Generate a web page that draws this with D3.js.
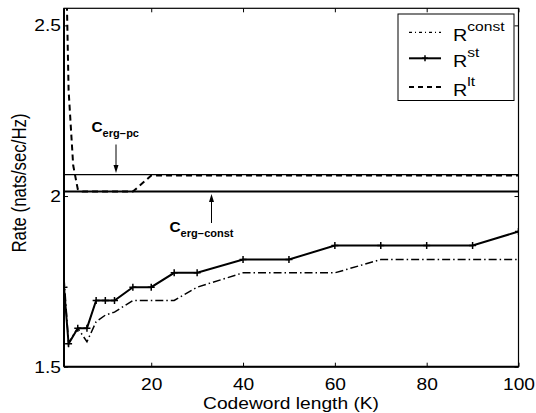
<!DOCTYPE html>
<html><head><meta charset="utf-8">
<script src="https://cdn.jsdelivr.net/npm/d3@7"></script>
<style>
html,body{margin:0;padding:0;background:#fff;}
svg{display:block;font-family:"Liberation Sans",Arial,Helvetica,sans-serif;}
</style></head>
<body><svg id="c" width="536" height="413"></svg>
<script>
// ---- data ----
const kValues = [1,2,4,6,8,10,12,16,20,25,30,40,50,60,70,80,90,100];
const rStValues = [1.733,1.567,1.613,1.613,1.694,1.694,1.694,1.733,1.733,1.775,1.775,1.814,1.814,1.855,1.855,1.855,1.855,1.896];
const rConstValues = [1.76,1.57,1.613,1.573,1.632,1.651,1.66,1.694,1.694,1.694,1.733,1.775,1.775,1.775,1.814,1.814,1.814,1.814];
const ltK = [1,2,3,4,5,8,10,12,16,20,25,30,40,50,60,70,80,90,100];
const rLtValues = [3.0,2.31,2.09,2.02,2.013,2.013,2.013,2.013,2.013,2.06,2.06,2.06,2.06,2.06,2.06,2.06,2.06,2.06,2.06];
const cErgPc = 2.063;
const cErgConst = 2.013;
const xTicks = [20,40,60,80,100];
const yTicks = [1.5,2,2.5];
const legendLabels = [["R","const"],["R","st"],["R","lt"]];
const xLabel = "Codeword length (K)";
const yLabel = "Rate (nats/sec/Hz)";

// ---- layout ----
const L=64, R=518.5, T=8.3, B=366.7, SX=1.2;
const svg = d3.select("#c");
const x = d3.scaleLinear().domain([1,100]).range([L,R]);
const y = d3.scaleLinear().domain([1.5,2.55]).range([B,T]);

svg.append("defs").append("clipPath").attr("id","clip")
  .append("rect").attr("x",L).attr("y",T).attr("width",R-L).attr("height",B-T);

// axes
const gx = svg.append("g").attr("transform",`translate(0,${B})`)
  .call(d3.axisBottom(x).tickValues(xTicks).tickSize(-4).tickPadding(12).tickFormat(d3.format("d")));
const gxt = svg.append("g").attr("transform",`translate(0,${T})`)
  .call(d3.axisTop(x).tickValues(xTicks).tickSize(-4).tickFormat(""));
const gy = svg.append("g").attr("transform",`translate(${L},0)`)
  .call(d3.axisLeft(y).tickValues(yTicks).tickSize(-4).tickPadding(2.5).tickFormat(d=>String(d)));
const gyr = svg.append("g").attr("transform",`translate(${R},0)`)
  .call(d3.axisRight(y).tickValues(yTicks).tickSize(-4).tickFormat(""));
[gx,gxt,gy,gyr].forEach(g=>{
  g.select(".domain").remove();
  g.selectAll(".tick line").attr("stroke","#000").attr("stroke-width",1);
  g.selectAll("text").attr("font-size",16).attr("fill","#000")
   .attr("font-family","Liberation Sans, Arial, sans-serif")
   .attr("transform",`scale(${SX},1)`);
});
gy.selectAll("text").attr("dy","0.35em");

// frame
svg.append("rect").attr("x",L).attr("y",T).attr("width",R-L).attr("height",B-T)
  .attr("fill","none").attr("stroke","#000").attr("stroke-width",1.2);
svg.append("line").attr("x1",L).attr("x2",L).attr("y1",T).attr("y2",B).attr("stroke","#000").attr("stroke-width",2);
svg.append("line").attr("x1",L).attr("x2",R).attr("y1",B).attr("y2",B).attr("stroke","#000").attr("stroke-width",2);

const plot = svg.append("g").attr("clip-path","url(#clip)");

// capacity lines
plot.append("line").attr("x1",L).attr("x2",R).attr("y1",y(cErgPc)).attr("y2",y(cErgPc))
  .attr("stroke","#000").attr("stroke-width",1.2);
plot.append("line").attr("x1",L).attr("x2",R).attr("y1",y(cErgConst)).attr("y2",y(cErgConst))
  .attr("stroke","#000").attr("stroke-width",2);

const line = d3.line().x(d=>x(d[0])).y(d=>y(d[1]));

// R^lt dashed
plot.append("path").datum(ltK.map((k,i)=>[k,rLtValues[i]])).attr("d",line)
  .attr("fill","none").attr("stroke","#000").attr("stroke-width",2).attr("stroke-dasharray","6,4");
// R^const dash-dot
plot.append("path").datum(kValues.map((k,i)=>[k,rConstValues[i]])).attr("d",line)
  .attr("fill","none").attr("stroke","#000").attr("stroke-width",1.5).attr("stroke-dasharray","8,3,1.5,3");
// R^st solid with + markers
const stData = kValues.map((k,i)=>[k,rStValues[i]]);
plot.append("path").datum(stData).attr("d",line)
  .attr("fill","none").attr("stroke","#000").attr("stroke-width",2);
plot.selectAll(".mk").data(stData).enter().append("path").attr("class","mk")
  .attr("transform",d=>`translate(${x(d[0])},${y(d[1])})`)
  .attr("d","M-3.5,0H3.5M0,-3.5V3.5").attr("stroke","#000").attr("stroke-width",1.5);

// annotations
function annot(tx,ty,sub){
  const g = svg.append("g").attr("transform",`translate(${tx},${ty}) scale(1.1,1)`);
  const t = g.append("text").attr("font-weight","bold").attr("fill","#000");
  t.append("tspan").attr("font-size",14).text("C");
  t.append("tspan").attr("font-size",10).attr("dy",5.5).text(sub);
}
annot(91.5,131.5,"erg\u2212pc");
annot(169.5,231.5,"erg\u2212const");
function arrow(ax,y0,y1){
  const dir = Math.sign(y1-y0);
  svg.append("line").attr("x1",ax).attr("x2",ax).attr("y1",y0).attr("y2",y1-dir*6).attr("stroke","#000").attr("stroke-width",1);
  svg.append("path").attr("d",`M${ax},${y1}L${ax-2.5},${y1-dir*8}L${ax+2.5},${y1-dir*8}Z`).attr("fill","#000");
}
arrow(116,144.5,y(cErgPc)-1.5);
arrow(211.5,223,y(cErgConst)+2.5);

// axis labels
svg.append("g").attr("transform",`translate(291,408.5) scale(${SX},1)`)
  .append("text").attr("text-anchor","middle").attr("font-size",16).attr("fill","#000").text(xLabel);
svg.append("g").attr("transform",`translate(26,183) scale(${SX},1)`)
  .append("text").attr("transform","rotate(-90)").attr("text-anchor","middle").attr("font-size",16.8).attr("fill","#000").text(yLabel);

// legend
const lg = svg.append("g");
lg.append("rect").attr("x",398).attr("y",14).attr("width",116).attr("height",86.5)
  .attr("fill","#fff").attr("stroke","#000").attr("stroke-width",1);
const lgY = [32.3,58.3,87];
const dashes = ["3,3,1,3",null,"5,4"];
legendLabels.forEach((lab,i)=>{
  const ly = lgY[i];
  lg.append("line").attr("x1",409).attr("x2",441).attr("y1",ly).attr("y2",ly)
    .attr("stroke","#000").attr("stroke-width",i===0?1.2:2).attr("stroke-dasharray",dashes[i]);
  if(i===1) lg.append("path").attr("transform",`translate(425,${ly})`).attr("d","M-3,0H3M0,-3V3").attr("stroke","#000").attr("stroke-width",1.5);
  const g = lg.append("g").attr("transform",`translate(453,${ly+8.5}) scale(${SX},1)`);
  const t = g.append("text").attr("fill","#000");
  t.append("tspan").attr("font-size",16.5).text(lab[0]);
  t.append("tspan").attr("font-size",13).attr("dy",-10).text(lab[1]);
});
</script></body></html>
